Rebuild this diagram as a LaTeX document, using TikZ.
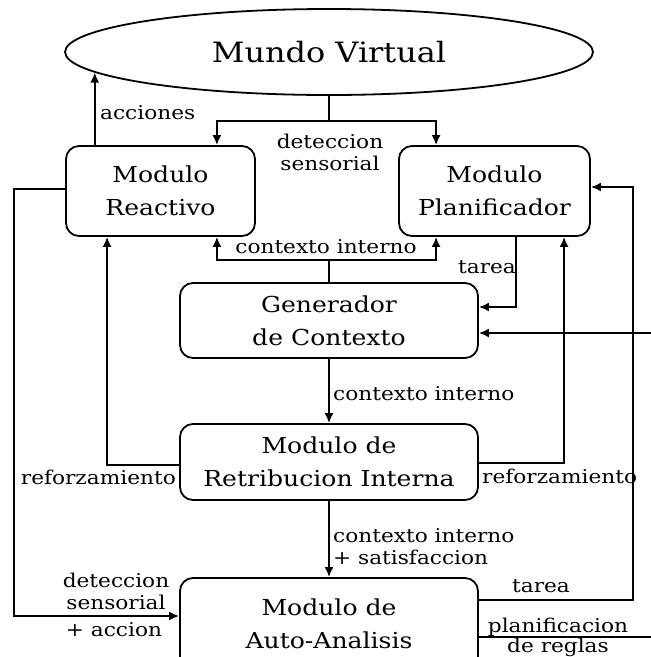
\documentclass[tikz,border=0pt]{standalone}
\usepackage{fontspec}
\setmainfont{DejaVu Serif}[FakeStretch=1.14]
\usetikzlibrary{arrows.meta,shapes.geometric,calc}
\newcommand\myNodeFont{\fontsize{22}{33}\selectfont}
\newcommand\myLblFont{\fontsize{19}{22}\selectfont}
\tikzset{
  box/.style={draw, line width=1.8pt, rounded corners=13pt, align=center, font=\myNodeFont, inner sep=0pt},
  ln/.style={line width=1.8pt},
  arr/.style={line width=1.8pt, -{Latex[length=10pt,width=9pt]}},
  lbl/.style={font=\myLblFont, inner sep=0pt},
}
\begin{document}
\begin{tikzpicture}[x=1pt,y=-1pt]
\clip (0,0) rectangle (651,657);
\fill[white] (0,0) rectangle (651,657);
% nodes
\node[ellipse, draw, line width=1.8pt, minimum width=528pt, minimum height=86pt, inner sep=0pt, font=\fontsize{28}{32}\selectfont] (mv) at (329,52) {Mundo Virtual};
\node[box, minimum width=189pt, minimum height=90pt] (react) at (160.5,191) {Modulo\\Reactivo};
\node[box, minimum width=191pt, minimum height=90pt] (plan) at (494.5,191) {Modulo\\Planificador};
\node[box, minimum width=298pt, minimum height=75pt] (gen) at (329,320.5) {Generador\\de Contexto};
\node[box, minimum width=298pt, minimum height=76pt] (ret) at (329,462) {Modulo de\\Retribucion Interna};
\node[box, minimum width=298pt, minimum height=92pt] (auto) at (329,624) {Modulo de\\Auto-Analisis};
% coordinates
\coordinate (acc) at (mv.185);
\coordinate (ds) at (329,121);
\coordinate (ci) at (329,260);
\coordinate (extg) at (651,333);
\coordinate (extp) at (651,637);
% connectors
\draw[arr] (react.north -| acc) -- (acc);
\draw[ln] (mv.south) -- (ds);
\draw[arr] (ds) -| ($(react.north east)+(-39,0)$);
\draw[arr] (ds) -| ($(plan.north west)+(38,0)$);
\draw[ln] (gen.north) -- (ci);
\draw[arr] (ci) -| ($(react.south east)+(-39,0)$);
\draw[arr] (ci) -| ($(plan.south west)+(38,0)$);
\draw[arr] ($(plan.south west)+(118,0)$) |- ($(gen.east)+(0,-13.5)$);
\draw[arr] (extg) -- (gen.east |- extg);
\draw[arr] (gen.south) -- (ret.north);
\draw[arr] ($(ret.west)+(0,3)$) -| ($(react.south west)+(42,0)$);
\draw[arr] ($(ret.east)+(0,1)$) -| ($(plan.south west)+(166,0)$);
\draw[arr] (ret.south) -- (auto.north);
\draw[arr] ($(react.west)+(0,-2)$) -- ++(-51,0) |- ($(auto.west)+(0,-8)$);
\draw[arr] ($(auto.east)+(0,-24)$) -- ++(154,0) |- ($(plan.east)+(0,-4)$);
\draw[ln] ($(auto.east)+(0,13)$) -- (extp);
% labels
\node[lbl, anchor=base west] (lacc) at (100,119) {acciones};
\node[lbl, align=center] (lds) at (330,152) {deteccion\\sensorial};
\node[lbl, anchor=base] (lci1) at (326,253) {contexto interno};
\node[lbl, anchor=base west] (lt1) at (458,273) {tarea};
\node[lbl, anchor=base west] (lci2) at (333,400) {contexto interno};
\node[lbl, anchor=base east] (lrf1) at (176,484) {reforzamiento};
\node[lbl, anchor=base west] (lrf2) at (482,483) {reforzamiento};
\node[lbl, align=left, anchor=west] (lci3) at (333,547) {contexto interno\\ + satisfaccion};
\node[lbl, align=center] (lds2) at (116,591.5) {deteccion\\sensorial};
\node[lbl, anchor=base] (lac) at (114,636) {+ accion};
\node[lbl, anchor=base west] (lt2) at (512,592) {tarea};
\node[lbl, anchor=base] (lpl) at (558,632) {planificacion};
\node[lbl, anchor=base] (lre) at (558,652) {de reglas};
\end{tikzpicture}
\end{document}
